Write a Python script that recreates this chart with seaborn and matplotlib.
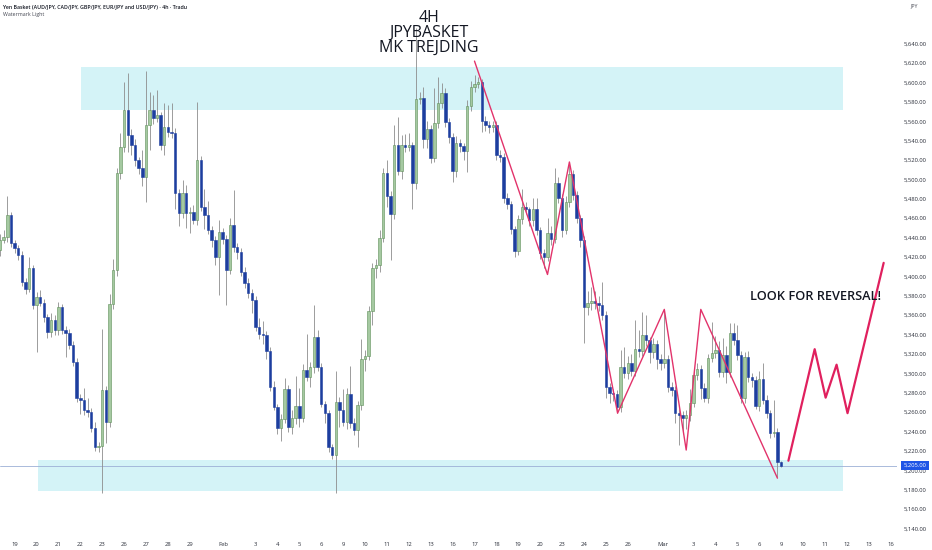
import numpy as np
import seaborn as sns
import matplotlib.pyplot as plt
import matplotlib.transforms as mtransforms
from matplotlib.patches import Rectangle
from matplotlib.ticker import FuncFormatter

# 4h candles, Yen basket (open of first bar, then closes / highs / lows)
first_open = 5427
closes = [5438, 5441, 5463, 5434, 5429, 5422, 5394, 5387, 5409, 5371,
          5379, 5373, 5358, 5343, 5355, 5345, 5368, 5345, 5342, 5329,
          5312, 5275, 5273, 5262, 5260, 5244, 5224, 5225, 5283, 5250,
          5372, 5407, 5507, 5533, 5572, 5546, 5535, 5520, 5512, 5503,
          5556, 5572, 5563, 5566, 5535, 5554, 5549, 5548, 5486, 5465,
          5486, 5465, 5466, 5458, 5520, 5472, 5463, 5448, 5438, 5420,
          5446, 5439, 5407, 5453, 5430, 5425, 5405, 5393, 5383, 5376,
          5348, 5341, 5340, 5323, 5286, 5265, 5244, 5253, 5284, 5245,
          5254, 5266, 5254, 5304, 5296, 5307, 5338, 5307, 5268, 5259,
          5224, 5216, 5271, 5262, 5250, 5279, 5249, 5242, 5267, 5315,
          5318, 5364, 5409, 5412, 5440, 5507, 5483, 5464, 5535, 5509,
          5535, 5533, 5535, 5496, 5583, 5584, 5542, 5552, 5522, 5558,
          5579, 5589, 5559, 5544, 5509, 5538, 5534, 5529, 5576, 5595,
          5598, 5600, 5560, 5556, 5554, 5556, 5525, 5523, 5481, 5475,
          5449, 5426, 5459, 5472, 5469, 5458, 5470, 5448, 5424, 5420,
          5445, 5439, 5496, 5481, 5448, 5477, 5506, 5484, 5460, 5438,
          5368, 5373, 5375, 5373, 5371, 5360, 5286, 5280, 5279, 5265,
          5307, 5300, 5311, 5302, 5325, 5323, 5340, 5334, 5322, 5330,
          5315, 5311, 5315, 5286, 5283, 5259, 5257, 5254, 5257, 5270,
          5298, 5305, 5285, 5275, 5316, 5321, 5324, 5301, 5319, 5301,
          5342, 5334, 5319, 5275, 5317, 5296, 5293, 5266, 5294, 5273,
          5259, 5239, 5240, 5209, 5205]
highs = [5444, 5448, 5483, 5466, 5438, 5432, 5426, 5398, 5420, 5412,
         5384, 5386, 5377, 5361, 5362, 5360, 5374, 5372, 5349, 5346,
         5333, 5316, 5279, 5285, 5275, 5264, 5250, 5229, 5346, 5287,
         5382, 5418, 5512, 5548, 5600, 5610, 5552, 5542, 5523, 5530,
         5612, 5590, 5587, 5592, 5570, 5579, 5577, 5579, 5553, 5490,
         5499, 5494, 5472, 5474, 5580, 5524, 5490, 5478, 5452, 5442,
         5458, 5450, 5443, 5460, 5489, 5434, 5429, 5410, 5398, 5387,
         5380, 5357, 5354, 5344, 5327, 5292, 5268, 5258, 5295, 5288,
         5262, 5297, 5285, 5310, 5341, 5312, 5371, 5345, 5311, 5272,
         5262, 5227, 5302, 5276, 5284, 5285, 5308, 5254, 5272, 5335,
         5324, 5370, 5414, 5418, 5448, 5512, 5520, 5488, 5556, 5564,
         5546, 5547, 5548, 5539, 5656, 5590, 5595, 5560, 5556, 5594,
         5606, 5599, 5594, 5563, 5548, 5545, 5542, 5538, 5582, 5601,
         5608, 5606, 5604, 5565, 5560, 5560, 5560, 5530, 5527, 5486,
         5478, 5452, 5463, 5490, 5477, 5472, 5481, 5481, 5451, 5428,
         5460, 5452, 5512, 5503, 5485, 5483, 5517, 5510, 5488, 5463,
         5442, 5385, 5389, 5385, 5380, 5394, 5364, 5290, 5284, 5283,
         5324, 5327, 5318, 5320, 5355, 5345, 5363, 5360, 5338, 5337,
         5334, 5320, 5365, 5319, 5291, 5287, 5263, 5261, 5262, 5284,
         5303, 5311, 5309, 5290, 5320, 5353, 5339, 5333, 5337, 5328,
         5352, 5352, 5350, 5323, 5322, 5323, 5300, 5297, 5303, 5311,
         5278, 5262, 5273, 5244, 5210]
lows = [5421, 5434, 5436, 5430, 5424, 5417, 5390, 5382, 5384, 5366,
        5322, 5369, 5353, 5337, 5338, 5340, 5340, 5341, 5317, 5325,
        5308, 5271, 5258, 5257, 5255, 5240, 5220, 5219, 5177, 5228,
        5245, 5366, 5400, 5500, 5528, 5528, 5525, 5514, 5506, 5493,
        5477, 5530, 5557, 5559, 5530, 5525, 5544, 5543, 5469, 5452,
        5460, 5450, 5445, 5454, 5453, 5467, 5449, 5444, 5430, 5412,
        5381, 5433, 5371, 5402, 5425, 5418, 5400, 5388, 5378, 5362,
        5344, 5335, 5330, 5315, 5282, 5262, 5238, 5230, 5249, 5240,
        5238, 5248, 5245, 5250, 5292, 5286, 5300, 5302, 5265, 5249,
        5219, 5212, 5177, 5245, 5246, 5243, 5244, 5236, 5224, 5262,
        5302, 5314, 5350, 5398, 5405, 5436, 5472, 5417, 5459, 5505,
        5500, 5528, 5529, 5470, 5490, 5578, 5532, 5532, 5517, 5518,
        5553, 5574, 5554, 5538, 5497, 5502, 5528, 5520, 5508, 5571,
        5590, 5594, 5549, 5550, 5548, 5549, 5520, 5518, 5476, 5470,
        5444, 5420, 5422, 5454, 5464, 5452, 5452, 5443, 5418, 5409,
        5416, 5432, 5434, 5476, 5441, 5444, 5472, 5479, 5455, 5430,
        5331, 5360, 5365, 5366, 5364, 5355, 5275, 5270, 5272, 5259,
        5260, 5295, 5294, 5297, 5297, 5317, 5318, 5328, 5311, 5316,
        5305, 5304, 5306, 5281, 5277, 5249, 5226, 5238, 5243, 5251,
        5265, 5293, 5274, 5271, 5270, 5312, 5316, 5296, 5296, 5290,
        5296, 5329, 5314, 5270, 5270, 5291, 5286, 5263, 5261, 5268,
        5254, 5233, 5234, 5193, 5203]

last_price = 5205

# supply / demand zones: [bar start, bar end, price low, price high]
zone_top = [22.3, 231, 5572, 5616]
zone_bottom = [10.3, 231, 5179, 5211]

# drawn zigzags (bar index, price)
zz_past_x = [130, 150, 156, 169.2, 182, 188, 192, 213]
zz_past_y = [5622, 5402, 5518, 5259, 5366, 5221, 5366, 5192]
zz_next_x = [216, 223.2, 226.2, 229.2, 232.2, 242.1]
zz_next_y = [5210, 5325, 5275, 5309, 5259, 5414]

# time axis: trading-day offsets from Jan 19 and their labels
day_offsets = [0, 1, 2, 3, 4, 5, 6, 7, 8, 9.55, 11, 12, 13, 14, 15, 16, 17, 18, 19,
               20, 21, 22, 23, 24, 25, 26, 27, 28, 29.6, 31, 32, 33, 34, 35, 36, 37,
               38, 39, 40]
day_labels = ['19', '20', '21', '22', '23', '26', '27', '28', '29', 'Feb', '3', '4',
              '5', '6', '9', '10', '11', '12', '13', '16', '17', '18', '19', '20',
              '23', '24', '25', '26', 'Mar', '3', '4', '5', '6', '9', '10', '11',
              '12', '13', '16']

sns.set_theme(style="white")
plt.rcParams['font.family'] = ['Open Sans', 'DejaVu Sans']

fig = plt.figure(figsize=(9.32, 5.5), dpi=100)
ax = fig.add_axes([0, 15 / 550, 897 / 932, 535 / 550])

closes = np.array(closes, dtype=float)
opens = np.r_[first_open, closes[:-1]]
idx = np.arange(len(closes))
up = closes >= opens

# zones
for x0, x1, y0, y1 in (zone_top, zone_bottom):
    ax.add_patch(Rectangle((x0, y0), x1 - x0, y1 - y0, facecolor='#00bcd4',
                           alpha=0.17, edgecolor='none', zorder=1))

ax.axhline(last_price, color='#9cb0d6', lw=0.6, zorder=1.5)

# candles
ax.vlines(idx, lows, highs, color='#8d8d8d', lw=0.6, zorder=2)
h_up = np.maximum(closes - opens, 0.8)
h_dn = np.maximum(opens - closes, 0.8)
ax.bar(idx[up], h_up[up], bottom=opens[up], width=0.68, color='#a5c9a1',
       edgecolor='#5e8f59', linewidth=0.4, zorder=3)
ax.bar(idx[~up], h_dn[~up], bottom=closes[~up], width=0.68, color='#1d3e9f',
       edgecolor='#1d3e9f', linewidth=0.4, zorder=3)

# zigzag drawings
sns.lineplot(x=zz_past_x, y=zz_past_y, sort=False, estimator=None,
             color='#e2336b', lw=1.0, ax=ax, zorder=4)
sns.lineplot(x=zz_next_x, y=zz_next_y, sort=False, estimator=None,
             color='#e0205e', lw=1.6, ax=ax, zorder=4)

ax.set_xlim(0, 897 / 3.65)
ax.set_ylim(5133.4, 5685)
for s in ax.spines.values():
    s.set_visible(False)

ax.yaxis.tick_right()
ax.set_yticks(np.arange(5140, 5641, 20))
ax.yaxis.set_major_formatter(FuncFormatter(lambda v, p: f'{v:,.2f}'))
ax.set_xticks([4 + 6 * d for d in day_offsets])
ax.set_xticklabels(day_labels)
ax.tick_params(axis='y', length=0, pad=5, labelsize=4.2, labelcolor='#2a2e39')
ax.tick_params(axis='x', length=0, pad=5, labelsize=4.2, labelcolor='#2a2e39')
ax.set_xlabel('')
ax.set_ylabel('')

# last price tag
trans = mtransforms.blended_transform_factory(ax.transAxes, ax.transData)
ax.text(1.0075, last_price, f'{last_price:,.2f}', transform=trans, fontsize=4.2,
        color='white', va='center', ha='left', clip_on=False, zorder=10,
        bbox=dict(boxstyle='square,pad=0.4', fc='#1f55e6', ec='none'))

def px(x, y):
    return x / 932, 1 - y / 550

fig.text(*px(3, 7), 'Yen Basket (AUD/JPY, CAD/JPY, GBP/JPY, EUR/JPY and USD/JPY) \u00b7 4h \u00b7 Tradu',
         fontsize=3.8, fontweight='semibold', color='#131722', va='center', ha='left')
fig.text(*px(3, 14.5), 'Watermark Light', fontsize=3.8, color='#434651', va='center', ha='left')
fig.text(*px(914, 6), 'JPY', fontsize=3.8, color='#434651', va='center', ha='center')

for txt, y in (('4H', 18), ('JPYBASKET', 33), ('MK TREJDING', 47.5)):
    fig.text(*px(429, y), txt, fontsize=11.5, color='#131722', va='center', ha='center')

fig.text(*px(816, 297), 'LOOK FOR REVERSAL!', fontsize=9.2, fontweight='semibold',
         color='#131722', va='center', ha='center')

fig.savefig('out.png', dpi=100)
